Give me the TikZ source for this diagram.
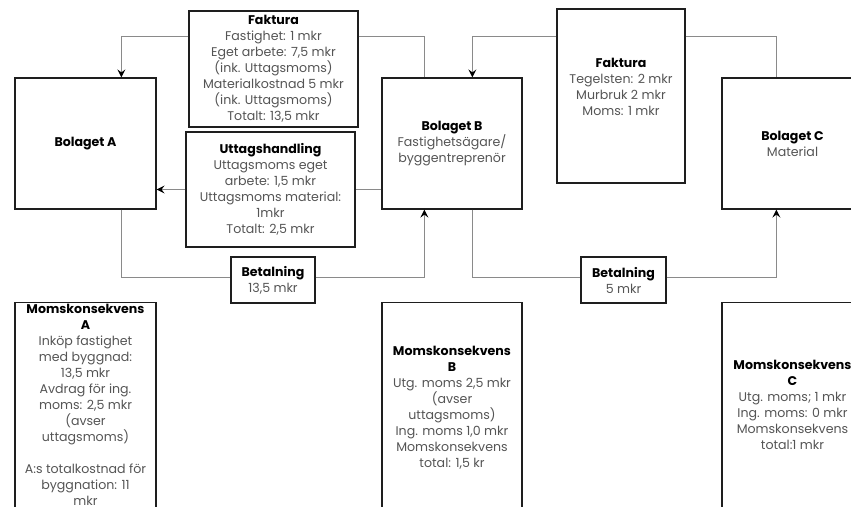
\documentclass[tikz,border=0pt]{standalone}
\usepackage{fontspec}
\setmainfont{Poppins}
\usetikzlibrary{arrows.meta,calc}
\definecolor{txtgray}{HTML}{555555}
\definecolor{linegray}{HTML}{8A8A8A}
\definecolor{boxline}{HTML}{1E1E1E}
\begin{document}
\begin{tikzpicture}[x=1pt,y=-1pt,
  box/.style={draw=boxline,line width=1.2pt,fill=white,inner sep=0pt,
    align=center,text=txtgray,font=\fontsize{12.6}{16}\selectfont},
  txt/.style={inner sep=0pt,align=center,text=txtgray,font=\fontsize{12.6}{16}\selectfont},
  ln/.style={draw=linegray,line width=0.9pt},
  arr/.style={ln,-{Stealth[black,length=8pt,width=8pt,inset=3pt]}}]
\useasboundingbox (0,0) rectangle (851,506);
\clip (0,0) rectangle (851,506);

% companies
\node[box,minimum width=141,minimum height=131] (A) at (85.5,143.5)
  {\textbf{\color{black}Bolaget A}};
\node[box,minimum width=140,minimum height=131] (B) at (452,143.5)
  {\textbf{\color{black}Bolaget B}\\Fastighetsägare/\\byggentreprenör};
\node[box,minimum width=141,minimum height=131] (C) at (792.5,143.5)
  {\textbf{\color{black}Bolaget C}\\Material};

% invoices and withdrawal
\node[box,minimum width=169,minimum height=116] (fakA) at (273.5,69)
  {\textbf{\color{black}Faktura}\\Fastighet: 1 mkr\\Eget arbete: 7,5 mkr\\(ink. Uttagsmoms)\\Materialkostnad 5 mkr\\(ink. Uttagsmoms)\\Totalt: 13,5 mkr};
\node[box,minimum width=169,minimum height=115] (utt) at (270.5,189.5)
  {\textbf{\color{black}Uttagshandling}\\Uttagsmoms eget\\arbete: 1,5 mkr\\Uttagsmoms material:\\1mkr\\Totalt: 2,5 mkr};
\node[box,minimum width=128,minimum height=174] (fakC) at (621,96) {};
\node[txt,anchor=north] (fakCt) at (621,58)
  {\textbf{\color{black}Faktura}\\Tegelsten: 2 mkr\\Murbruk 2 mkr\\Moms: 1 mkr};

% payments
\node[box,minimum width=84,minimum height=46] (betAB) at (273,280)
  {\textbf{\color{black}Betalning}\\13,5 mkr};
\node[box,minimum width=85,minimum height=46] (betBC) at (623.5,280)
  {\textbf{\color{black}Betalning}\\5 mkr};

% VAT consequences
\node[box,minimum width=141,minimum height=260,anchor=north] (mA) at (85.5,302) {};
\node[box,minimum width=140,minimum height=260,anchor=north] (mB) at (452,302) {};
\node[box,minimum width=141,minimum height=260,anchor=north] (mC) at (792.5,302) {};
\node[txt,anchor=north] (mAt) at (mA.north) [yshift=-2pt]
  {\textbf{\color{black}Momskonsekvens}\\\textbf{\color{black}A}\\Inköp fastighet\\med byggnad:\\13,5 mkr\\Avdrag för ing.\\moms: 2,5 mkr\\(avser\\uttagsmoms)\\[16pt]A:s totalkostnad för\\byggnation: 11\\mkr};
\node[txt,anchor=north] (mBt) at (mB.north) [yshift=-44pt]
  {\textbf{\color{black}Momskonsekvens}\\\textbf{\color{black}B}\\Utg. moms 2,5 mkr\\(avser\\uttagsmoms)\\Ing. moms 1,0 mkr\\Momskonsekvens\\total: 1,5 kr};
\node[txt,anchor=north] (mCt) at (mC.north) [yshift=-58pt]
  {\textbf{\color{black}Momskonsekvens}\\\textbf{\color{black}C}\\Utg. moms; 1 mkr\\Ing. moms: 0 mkr\\Momskonsekvens\\total:1 mkr};

% connectors
\draw[arr] ([yshift=-26pt]fakA.north west) -| ([xshift=107pt]A.north west);
\draw[ln] ([yshift=-26pt]fakA.north east) -| ([xshift=43pt]B.north west);
\draw[ln] (B.west |- utt.east) -- (utt.east);
\draw[arr] (utt.west) -- (A.east |- utt.west);
\draw[ln] ([xshift=107pt]A.south west) |- ([yshift=3pt]betAB.west);
\draw[arr] ([yshift=3pt]betAB.east) -| ([xshift=43pt]B.south west);
\draw[arr] ([yshift=-28pt]fakC.north west) -| ([xshift=91pt]B.north west);
\draw[ln] ([yshift=-28pt]fakC.north east) -| ([xshift=55pt]C.north west);
\draw[ln] ([xshift=91pt]B.south west) |- ([yshift=3pt]betBC.west);
\draw[arr] ([yshift=3pt]betBC.east) -| ([xshift=55pt]C.south west);
\end{tikzpicture}
\end{document}
